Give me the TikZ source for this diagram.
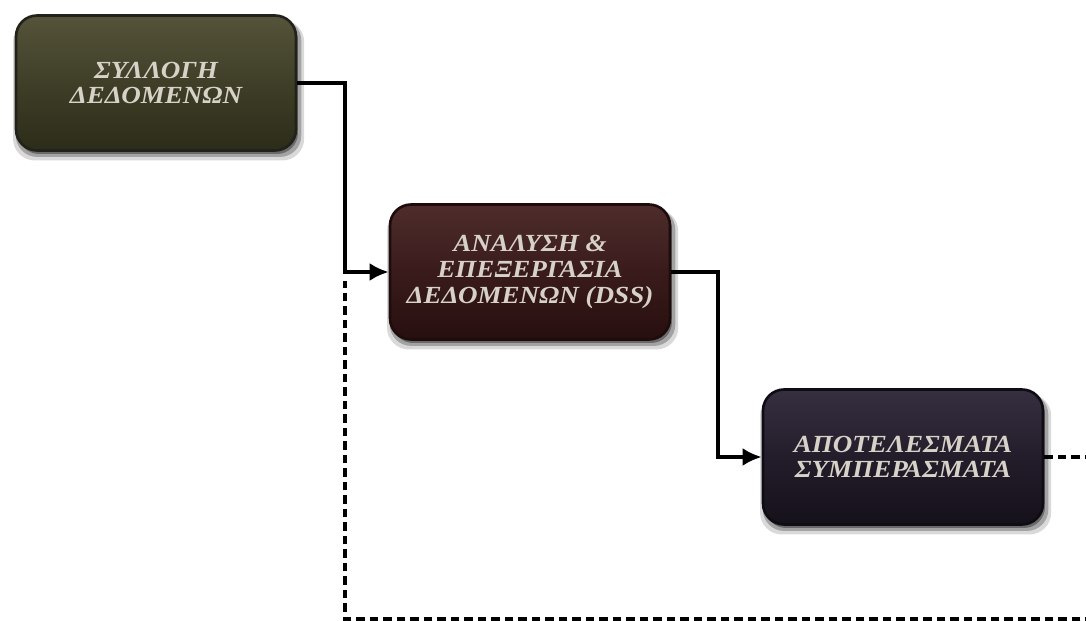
\documentclass[tikz,border=0pt]{standalone}
\usepackage{fontspec}
\setmainfont{Liberation Serif}
\newfontfamily\boxfont[FakeStretch=1.1]{Liberation Serif}
\usetikzlibrary{arrows.meta,shadows,calc}
\definecolor{olivemid}{HTML}{3F3E27}
\definecolor{olivetop}{HTML}{55543A}
\definecolor{olivebot}{HTML}{2C2C1A}
\definecolor{oliveedge}{HTML}{22221A}
\definecolor{maroonmid}{HTML}{3A1B1B}
\definecolor{maroontop}{HTML}{4E2C2C}
\definecolor{maroonbot}{HTML}{270F0F}
\definecolor{maroonedge}{HTML}{1E0C0C}
\definecolor{navymid}{HTML}{231D2B}
\definecolor{navytop}{HTML}{362F40}
\definecolor{navybot}{HTML}{15111A}
\definecolor{navyedge}{HTML}{100C14}
\definecolor{txtgray}{HTML}{D6D2C8}
\tikzset{
  boxstyle/.style={rounded corners=0.42cm, minimum width=5.6cm, minimum height=2.7cm,
    align=center, text=txtgray, line width=1.5pt,
    font=\boxfont\fontsize{14}{14.6}\selectfont\bfseries\itshape,
    drop shadow={shadow xshift=0.05cm, shadow yshift=-0.14cm, opacity=0.15, fill=black, shadow scale=1.04},
    drop shadow={shadow xshift=0.05cm, shadow yshift=-0.1cm, opacity=0.25, fill=black, shadow scale=1.02},
    drop shadow={shadow xshift=0.04cm, shadow yshift=-0.07cm, opacity=0.35, fill=black}},
  conn/.style={line width=2.2pt, draw=black},
  arrowconn/.style={conn, -{Latex[length=0.38cm,width=0.36cm]}},
  dashconn/.style={line width=2.2pt, draw=black, dash pattern=on 0.17cm off 0.1cm}
}
\begin{document}
\begin{tikzpicture}[x=0.02cm,y=-0.02cm]
\useasboundingbox (0,0) rectangle (1086,621);
\node[boxstyle, top color=olivetop, bottom color=olivebot, middle color=olivemid, draw=oliveedge] (b1) at (156,83) {ΣΥΛΛΟΓΗ\\ΔΕΔΟΜΕΝΩΝ};
\node[boxstyle, top color=maroontop, bottom color=maroonbot, middle color=maroonmid, draw=maroonedge] (b2) at (530,272) {ΑΝΑΛΥΣΗ \&\\ΕΠΕΞΕΡΓΑΣΙΑ\\ΔΕΔΟΜΕΝΩΝ (DSS)};
\node[boxstyle, top color=navytop, bottom color=navybot, middle color=navymid, draw=navyedge] (b3) at (903,457) {ΑΠΟΤΕΛΕΣΜΑΤΑ\\ΣΥΜΠΕΡΑΣΜΑΤΑ};
\coordinate (k1) at (345,0);
\coordinate (k2) at (718,0);
\coordinate (dR) at (1096,0);
\coordinate (dB) at (0,619);
\coordinate (dT) at (345,281);
\draw[arrowconn] (b1.east) -| (k1 |- b2.west) -- (b2.west);
\draw[arrowconn] (b2.east) -| (k2 |- b3.west) -- (b3.west);
\draw[dashconn] (b3.east) -- (b3.east -| dR) -- (dR |- dB) -- (dT |- dB) -- (dT);
\end{tikzpicture}
\end{document}
